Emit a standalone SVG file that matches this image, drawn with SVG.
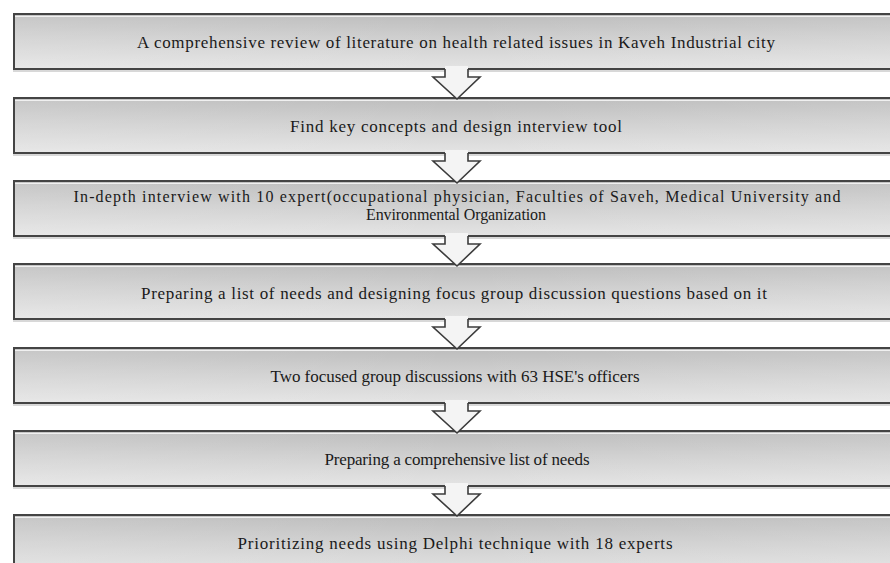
<svg xmlns="http://www.w3.org/2000/svg" xmlns:xlink="http://www.w3.org/1999/xlink" width="890" height="563" viewBox="0 0 890 563">
<defs>
<linearGradient id="boxg" x1="0" y1="0" x2="0" y2="1">
<stop offset="0" stop-color="#bcbcbc"/>
<stop offset="0.45" stop-color="#cfcfcf"/>
<stop offset="1" stop-color="#e4e4e4"/>
</linearGradient>
<linearGradient id="hshade" x1="0" y1="0" x2="1" y2="0">
<stop offset="0" stop-color="#ffffff" stop-opacity="0.15"/>
<stop offset="0.5" stop-color="#ffffff" stop-opacity="0"/>
<stop offset="1" stop-color="#ffffff" stop-opacity="0.12"/>
</linearGradient>
<g id="arrow">
<polygon points="445,66 445,77 433,77 457,99 480,77 468,77 468,66" fill="#f4f4f4"/>
<polyline points="445,69 445,77 433,77 457,99 480,77 468,77 468,69" fill="none" stroke="#3c3c3c" stroke-width="1.6" stroke-linejoin="miter"/>
</g>
</defs>
<style>
.box{fill:url(#boxg);stroke:#444;stroke-width:2}
.shade{fill:url(#hshade)}
.shadow{fill:#d8d8d8}
.hl{stroke:#f0f0f0;stroke-width:1}
text{font-family:"Liberation Serif","Times New Roman",serif;font-size:17px;fill:#1a1a1a;text-anchor:middle}
.two{font-size:16px}
</style>
<rect width="890" height="563" fill="#ffffff"/>

<g id="node1">
<rect class="shadow" x="13" y="15" width="890" height="57"/>
<rect class="box" x="14" y="14" width="890" height="55"/>
<rect class="shade" x="15" y="15" width="888" height="53"/>
<line class="hl" x1="15" y1="16.5" x2="890" y2="16.5"/>
<text x="456" y="48" textLength="638" lengthAdjust="spacing">A comprehensive  review of literature on health related issues in Kaveh Industrial  city</text>
</g>

<g id="node2">
<rect class="shadow" x="13" y="99" width="890" height="57"/>
<rect class="box" x="14" y="98" width="890" height="55"/>
<rect class="shade" x="15" y="99" width="888" height="53"/>
<line class="hl" x1="15" y1="100.5" x2="890" y2="100.5"/>
<text x="456" y="132" textLength="332" lengthAdjust="spacing">Find key concepts and design interview  tool</text>
</g>

<g id="node3">
<rect class="shadow" x="13" y="182" width="890" height="57"/>
<rect class="box" x="14" y="181" width="890" height="55"/>
<rect class="shade" x="15" y="182" width="888" height="53"/>
<line class="hl" x1="15" y1="183.5" x2="890" y2="183.5"/>
<text class="two" x="457" y="202" textLength="767" lengthAdjust="spacing">In-depth interview  with  10 expert(occupational physician,  Faculties  of Saveh, Medical University  and</text>
<text class="two" x="456" y="220" textLength="180" lengthAdjust="spacing">Environmental  Organization</text>
</g>

<g id="node4">
<rect class="shadow" x="13" y="265" width="890" height="57"/>
<rect class="box" x="14" y="264" width="890" height="55"/>
<rect class="shade" x="15" y="265" width="888" height="53"/>
<line class="hl" x1="15" y1="266.5" x2="890" y2="266.5"/>
<text x="454" y="299" textLength="626" lengthAdjust="spacing">Preparing  a list of needs and designing  focus group discussion  questions based on it</text>
</g>

<g id="node5">
<rect class="shadow" x="13" y="349" width="890" height="57"/>
<rect class="box" x="14" y="348" width="890" height="55"/>
<rect class="shade" x="15" y="349" width="888" height="53"/>
<line class="hl" x1="15" y1="350.5" x2="890" y2="350.5"/>
<text x="455" y="382" textLength="369" lengthAdjust="spacing">Two focused group discussions  with  63 HSE's officers</text>
</g>

<g id="node6">
<rect class="shadow" x="13" y="432" width="890" height="57"/>
<rect class="box" x="14" y="431" width="890" height="55"/>
<rect class="shade" x="15" y="432" width="888" height="53"/>
<line class="hl" x1="15" y1="433.5" x2="890" y2="433.5"/>
<text x="457" y="465" textLength="265" lengthAdjust="spacing">Preparing  a comprehensive  list  of  needs</text>
</g>

<g id="node7">
<rect class="shadow" x="13" y="516" width="890" height="57"/>
<rect class="box" x="14" y="515" width="890" height="60"/>
<rect class="shade" x="15" y="516" width="888" height="58"/>
<line class="hl" x1="15" y1="517.5" x2="890" y2="517.5"/>
<text x="455" y="549" textLength="435" lengthAdjust="spacing">Prioritizing  needs using  Delphi  technique  with 18 experts</text>
</g>

<g id="connectors">
<use xlink:href="#arrow" transform="translate(0,0)"/>
<use xlink:href="#arrow" transform="translate(0,84)"/>
<use xlink:href="#arrow" transform="translate(0,167)"/>
<use xlink:href="#arrow" transform="translate(0,250)"/>
<use xlink:href="#arrow" transform="translate(0,334)"/>
<use xlink:href="#arrow" transform="translate(0,417)"/>
</g>
</svg>
